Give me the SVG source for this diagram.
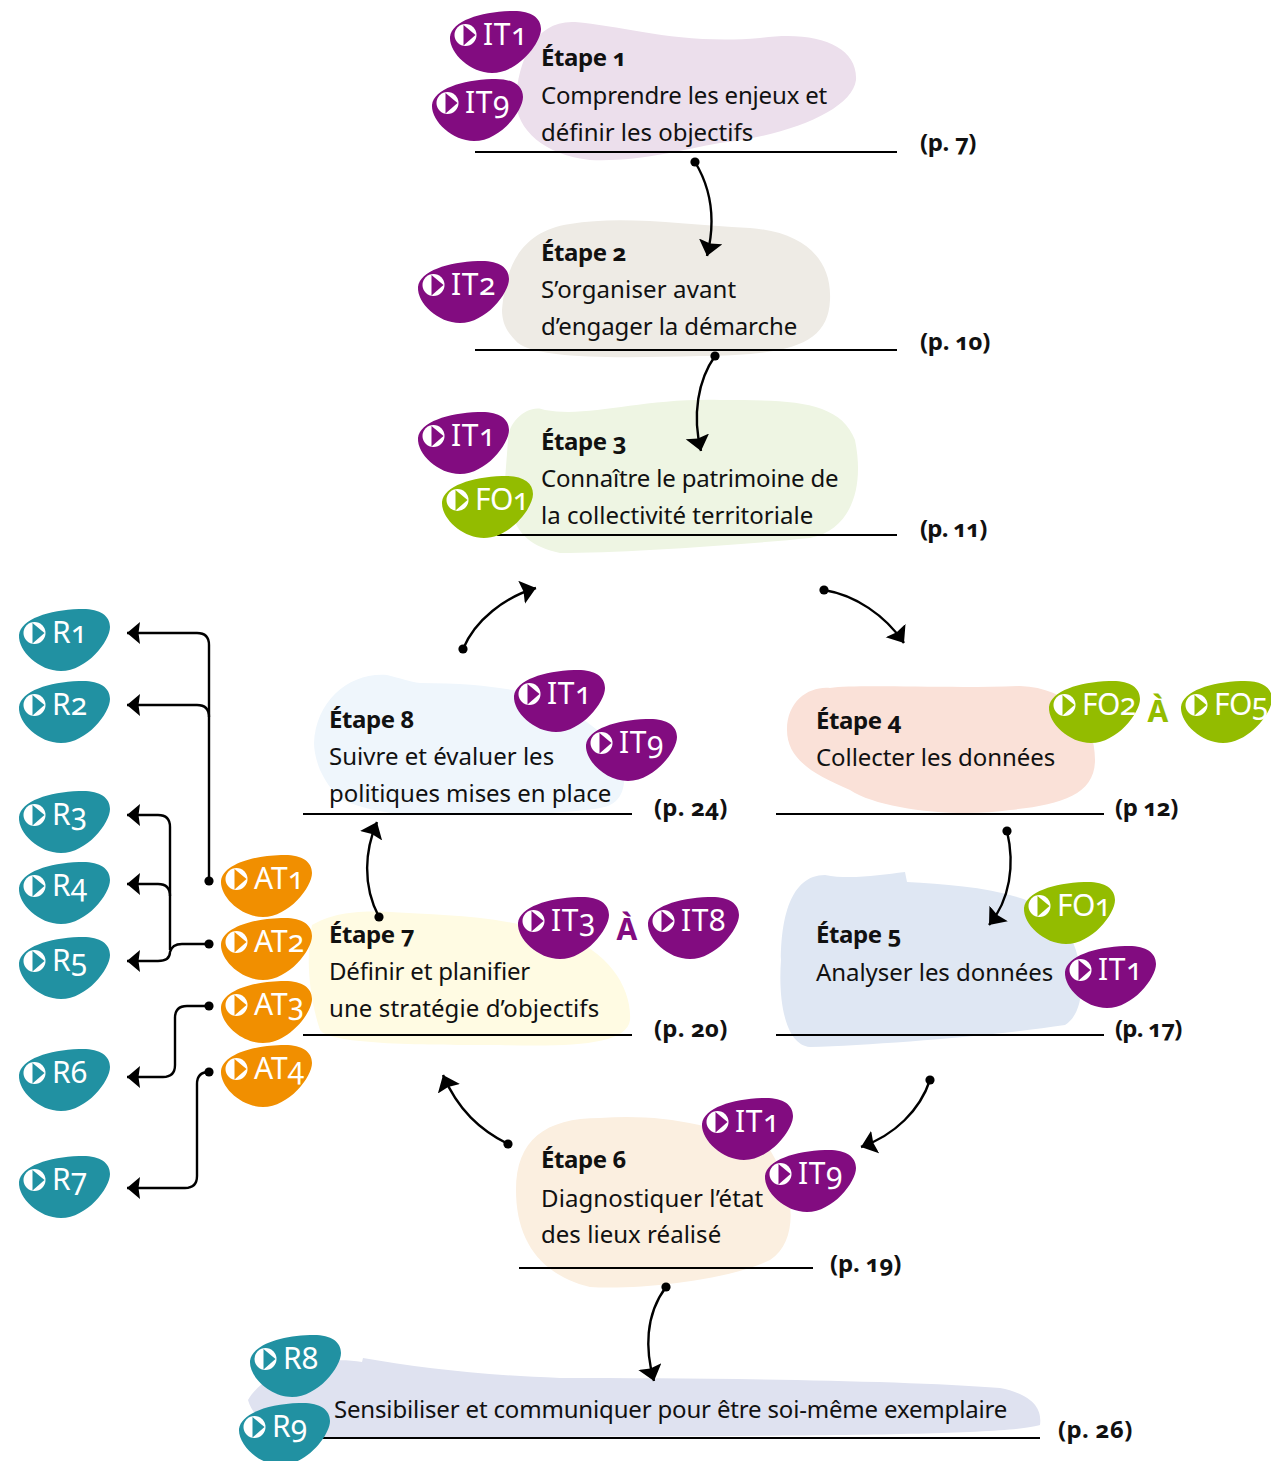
<svg xmlns="http://www.w3.org/2000/svg" xmlns:xlink="http://www.w3.org/1999/xlink" width="1271" height="1461" viewBox="0 0 1271 1461">
<style>
text{font-family:"Noto Sans","Open Sans","Liberation Sans",sans-serif;font-variant-numeric:oldstyle-nums;fill:#111}
.b{font-size:24px;letter-spacing:-.17px;transform:translateY(-1px)}
.h{font-size:24px;font-weight:700;letter-spacing:-.4px;transform:translateY(-1px)}
.p{font-size:24px;font-weight:700;letter-spacing:-.4px}
.lb{font-size:30px;fill:#fff}
.it{fill:#820c80}.fo{fill:#93bc00}.at{fill:#f18f00}.r{fill:#2191a2}
.it .lb{letter-spacing:.6px}.fo .lb{letter-spacing:-.6px}
.ln{stroke:#000;stroke-width:2;fill:none}
.cn{stroke:#000;stroke-width:2.4;fill:none;stroke-linecap:butt}
.ar{marker-end:url(#head)}
.cv{marker-end:url(#head2)}
.dt{marker-start:url(#dot)}
.a{font-size:30px;font-weight:700;text-anchor:middle}
</style>
<defs>
<marker id="head" markerUnits="userSpaceOnUse" markerWidth="26" markerHeight="26" refX="13" refY="12" orient="auto"><path d="M0,1 L13,12 L0,23 L1.5,12Z" fill="#000"/></marker>
<marker id="head2" markerUnits="userSpaceOnUse" markerWidth="28" markerHeight="28" refX="15" refY="12" orient="auto"><path d="M0,0 L15,12 L0,24 L2,12Z" fill="#000"/></marker>
<marker id="dot" markerUnits="userSpaceOnUse" markerWidth="12" markerHeight="12" refX="6" refY="6"><circle cx="6" cy="6" r="4.6" fill="#000"/></marker>
<g id="bd"><path d="M0,26 C2,10 30,1 60,0 C80,-1 91,6 91,18 C91,32 68,62 42,62 C20,62 -1,42 0,26Z"/><circle cx="15.5" cy="24" r="11" fill="#fff"/><path d="M13.5,14 L25.5,24 L13.5,34.5 Z"/></g>
</defs>

<g id="blobs">
<path id="blob1" fill="#ecdfec" d="M516,100 C518,60 535,20 575,22 C625,26 680,45 760,38 C815,30 858,45 856,80 C852,110 790,135 720,143 C680,150 640,162 590,160 C545,155 516,130 516,100Z"/>
<path id="blob2" fill="#eeebe5" d="M502,310 C505,275 515,232 570,224 C620,215 680,224 750,228 C805,232 832,260 830,300 C828,345 790,355 700,356 C620,358 530,360 515,340 C505,330 502,320 502,310Z"/>
<path id="blob3" fill="#eef5e3" d="M508,440 C508,420 530,403 545,410 C590,418 640,398 720,400 C790,400 840,400 855,440 C865,490 850,530 810,538 C740,545 620,553 560,553 C525,545 510,530 505,480Z"/>
<path id="blob4" fill="#fae1d8" d="M787,730 C787,700 810,686 830,688 C860,684 950,689 1020,686 C1070,688 1095,720 1095,760 C1095,795 1060,805 1010,810 C960,818 880,810 850,790 C815,775 787,760 787,730Z"/>
<path id="blob5" fill="#dfe7f3" d="M781,960 C781,920 790,875 825,875 C850,880 880,875 905,872 L907,882 C960,885 1030,890 1060,920 C1085,950 1090,1010 1065,1025 C1000,1035 880,1045 810,1047 C785,1045 778,1000 781,960Z"/>
<path id="blob6" fill="#fbefe0" d="M516,1190 C516,1140 545,1118 600,1118 C660,1113 720,1125 770,1150 C795,1190 800,1240 770,1260 C730,1280 640,1290 590,1287 C540,1275 516,1240 516,1190Z"/>
<path id="blob7" fill="#fffbe3" d="M312,925 C330,915 350,910 390,912 C440,915 500,915 560,935 C610,950 632,990 630,1020 C627,1045 570,1047 500,1045 C430,1045 330,1045 320,1030 C310,1000 305,960 312,925Z"/>
<path id="blob8" fill="#eff6fc" d="M314,743 C316,700 350,672 387,675 C400,678 410,682 420,683 C460,683 490,686 513,690 C570,705 624,735 624,783 C622,800 612,806 600,808 C560,815 480,815 420,815 C390,815 360,808 343,800 C330,790 325,780 320,770 C316,760 314,750 314,743Z"/>
<path id="blob9" fill="#dfe2f0" d="M248,1400 C265,1370 320,1355 362,1362 L363,1358 C420,1368 480,1375 560,1378 C700,1378 900,1380 1000,1388 C1035,1395 1042,1410 1040,1425 C1000,1438 700,1435 400,1438 C320,1440 260,1440 248,1400Z"/>
</g>

<g id="rules">
<path class="ln" d="M475,152H897M475,350H897M497,535H897M303,814H632M776,814H1104M303,1035H632M776,1035H1104M519,1268H813M322,1438H1040"/>
</g>

<g id="connectors">
<path class="cn cv dt" d="M695,162 C712,190 716,220 707,256"/>
<path class="cn cv dt" d="M715,356 C698,380 692,415 701,451"/>
<path class="cn cv dt" d="M463,649 C475,620 505,597 536,588"/>
<path class="cn cv dt" d="M824,590 C855,595 885,615 904,643"/>
<path class="cn cv dt" d="M1007,831 C1015,865 1010,900 989,925"/>
<path class="cn cv dt" d="M930,1080 C920,1110 895,1135 861,1147"/>
<path class="cn cv dt" d="M508,1144 C480,1130 458,1110 443,1075"/>
<path class="cn cv dt" d="M379,917 C362,885 365,850 377,822"/>
<path class="cn cv dt" d="M666,1287 C645,1315 645,1350 654,1381"/>
<path class="cn ar dt" d="M209,881 V645 Q209,633 197,633 H127"/>
<path class="cn ar" d="M209,717 Q209,705 197,705 H127"/>
<path class="cn ar" d="M170,950 V827 Q170,815 158,815 H127"/>
<path class="cn ar" d="M170,896 Q170,884 158,884 H127"/>
<path class="cn ar dt" d="M209,944 H182 Q172,944 170,952 Q170,961 158,961 H127"/>
<path class="cn ar dt" d="M209,1006 H187 Q175,1006 175,1018 V1065 Q175,1077 163,1077 H127"/>
<path class="cn ar dt" d="M209,1072 Q197,1072 197,1084 V1176 Q197,1188 185,1188 H127"/>
</g>

<g id="etape1"><text class="h" x="541" y="67">Étape 1</text><text class="b" x="541" y="105">Comprendre les enjeux et</text><text class="b" x="541" y="142" textLength="212">définir les objectifs</text><text class="p" x="920" y="151">(p. 7)</text></g>
<g id="etape2"><text class="h" x="541" y="262">Étape 2</text><text class="b" x="541" y="299" textLength="195">S’organiser avant</text><text class="b" x="541" y="336" textLength="256">d’engager la démarche</text><text class="p" x="920" y="350" textLength="70">(p. 10)</text></g>
<g id="etape3"><text class="h" x="541" y="451">Étape 3</text><text class="b" x="541" y="488">Connaître le patrimoine de</text><text class="b" x="541" y="525" textLength="272">la collectivité territoriale</text><text class="p" x="920" y="537" textLength="67">(p. 11)</text></g>
<g id="etape4"><text class="h" x="816" y="730">Étape 4</text><text class="b" x="816" y="767" textLength="239">Collecter les données</text><text class="p" x="1115" y="816" textLength="63">(p 12)</text></g>
<g id="etape5"><text class="h" x="816" y="944">Étape 5</text><text class="b" x="816" y="982" textLength="237">Analyser les données</text><text class="p" x="1115" y="1037" textLength="67">(p. 17)</text></g>
<g id="etape6"><text class="h" x="541" y="1169">Étape 6</text><text class="b" x="541" y="1208" textLength="222">Diagnostiquer l’état</text><text class="b" x="541" y="1244" textLength="180">des lieux réalisé</text><text class="p" x="830" y="1272" textLength="71">(p. 19)</text></g>
<g id="etape7"><text class="h" x="329" y="944">Étape 7</text><text class="b" x="329" y="981">Définir et planifier</text><text class="b" x="329" y="1018" textLength="270">une stratégie d’objectifs</text><text class="p" x="654" y="1037" textLength="73">(p. 20)</text></g>
<g id="etape8"><text class="h" x="329" y="729">Étape 8</text><text class="b" x="329" y="766" textLength="225">Suivre et évaluer les</text><text class="b" x="329" y="803" textLength="282">politiques mises en place</text><text class="p" x="654" y="816" textLength="73">(p. 24)</text></g>
<g id="communication"><text class="b" x="334" y="1419">Sensibiliser et communiquer pour être soi-même exemplaire</text><text class="p" x="1058" y="1438" textLength="74">(p. 26)</text></g>

<g id="n1" class="it" transform="translate(450,11)"><use href="#bd"/><text class="lb" x="33" y="34">IT1</text></g>
<g id="n2" class="it" transform="translate(432,79)"><use href="#bd"/><text class="lb" x="33" y="34">IT9</text></g>
<g id="n3" class="it" transform="translate(418,261)"><use href="#bd"/><text class="lb" x="33" y="34">IT2</text></g>
<g id="n4" class="it" transform="translate(418,412)"><use href="#bd"/><text class="lb" x="33" y="34">IT1</text></g>
<g id="n5" class="fo" transform="translate(442,476)"><use href="#bd"/><text class="lb" x="33" y="34">FO1</text></g>
<g id="n6" class="it" transform="translate(514,670)"><use href="#bd"/><text class="lb" x="33" y="34">IT1</text></g>
<g id="n7" class="it" transform="translate(586,719)"><use href="#bd"/><text class="lb" x="33" y="34">IT9</text></g>
<g id="n8" class="fo" transform="translate(1049,681)"><use href="#bd"/><text class="lb" x="33" y="34">FO2</text></g>
<g id="n9" class="fo" transform="translate(1181,681)"><use href="#bd"/><text class="lb" x="33" y="34">FO5</text></g>
<g id="n10" class="it" transform="translate(518,897)"><use href="#bd"/><text class="lb" x="33" y="34">IT3</text></g>
<g id="n11" class="it" transform="translate(648,897)"><use href="#bd"/><text class="lb" x="33" y="34">IT8</text></g>
<g id="n12" class="fo" transform="translate(1024,882)"><use href="#bd"/><text class="lb" x="33" y="34">FO1</text></g>
<g id="n13" class="it" transform="translate(1065,946)"><use href="#bd"/><text class="lb" x="33" y="34">IT1</text></g>
<g id="n14" class="it" transform="translate(702,1098)"><use href="#bd"/><text class="lb" x="33" y="34">IT1</text></g>
<g id="n15" class="it" transform="translate(765,1150)"><use href="#bd"/><text class="lb" x="33" y="34">IT9</text></g>
<g id="n16" class="at" transform="translate(221,855)"><use href="#bd"/><text class="lb" x="33" y="34">AT1</text></g>
<g id="n17" class="at" transform="translate(221,918)"><use href="#bd"/><text class="lb" x="33" y="34">AT2</text></g>
<g id="n18" class="at" transform="translate(221,981)"><use href="#bd"/><text class="lb" x="33" y="34">AT3</text></g>
<g id="n19" class="at" transform="translate(221,1045)"><use href="#bd"/><text class="lb" x="33" y="34">AT4</text></g>
<g id="n20" class="r" transform="translate(19,609)"><use href="#bd"/><text class="lb" x="33" y="34">R1</text></g>
<g id="n21" class="r" transform="translate(19,681)"><use href="#bd"/><text class="lb" x="33" y="34">R2</text></g>
<g id="n22" class="r" transform="translate(19,791)"><use href="#bd"/><text class="lb" x="33" y="34">R3</text></g>
<g id="n23" class="r" transform="translate(19,862)"><use href="#bd"/><text class="lb" x="33" y="34">R4</text></g>
<g id="n24" class="r" transform="translate(19,937)"><use href="#bd"/><text class="lb" x="33" y="34">R5</text></g>
<g id="n25" class="r" transform="translate(19,1049)"><use href="#bd"/><text class="lb" x="33" y="34">R6</text></g>
<g id="n26" class="r" transform="translate(19,1156)"><use href="#bd"/><text class="lb" x="33" y="34">R7</text></g>
<g id="n27" class="r" transform="translate(250,1335)"><use href="#bd"/><text class="lb" x="33" y="34">R8</text></g>
<g id="n28" class="r" transform="translate(239,1403)"><use href="#bd"/><text class="lb" x="33" y="34">R9</text></g>
<g id="a-it"><text class="a" x="627" y="940" style="fill:#820c80">À</text></g>
<g id="a-fo"><text class="a" x="1158" y="722" style="fill:#93bc00">À</text></g>
</svg>
